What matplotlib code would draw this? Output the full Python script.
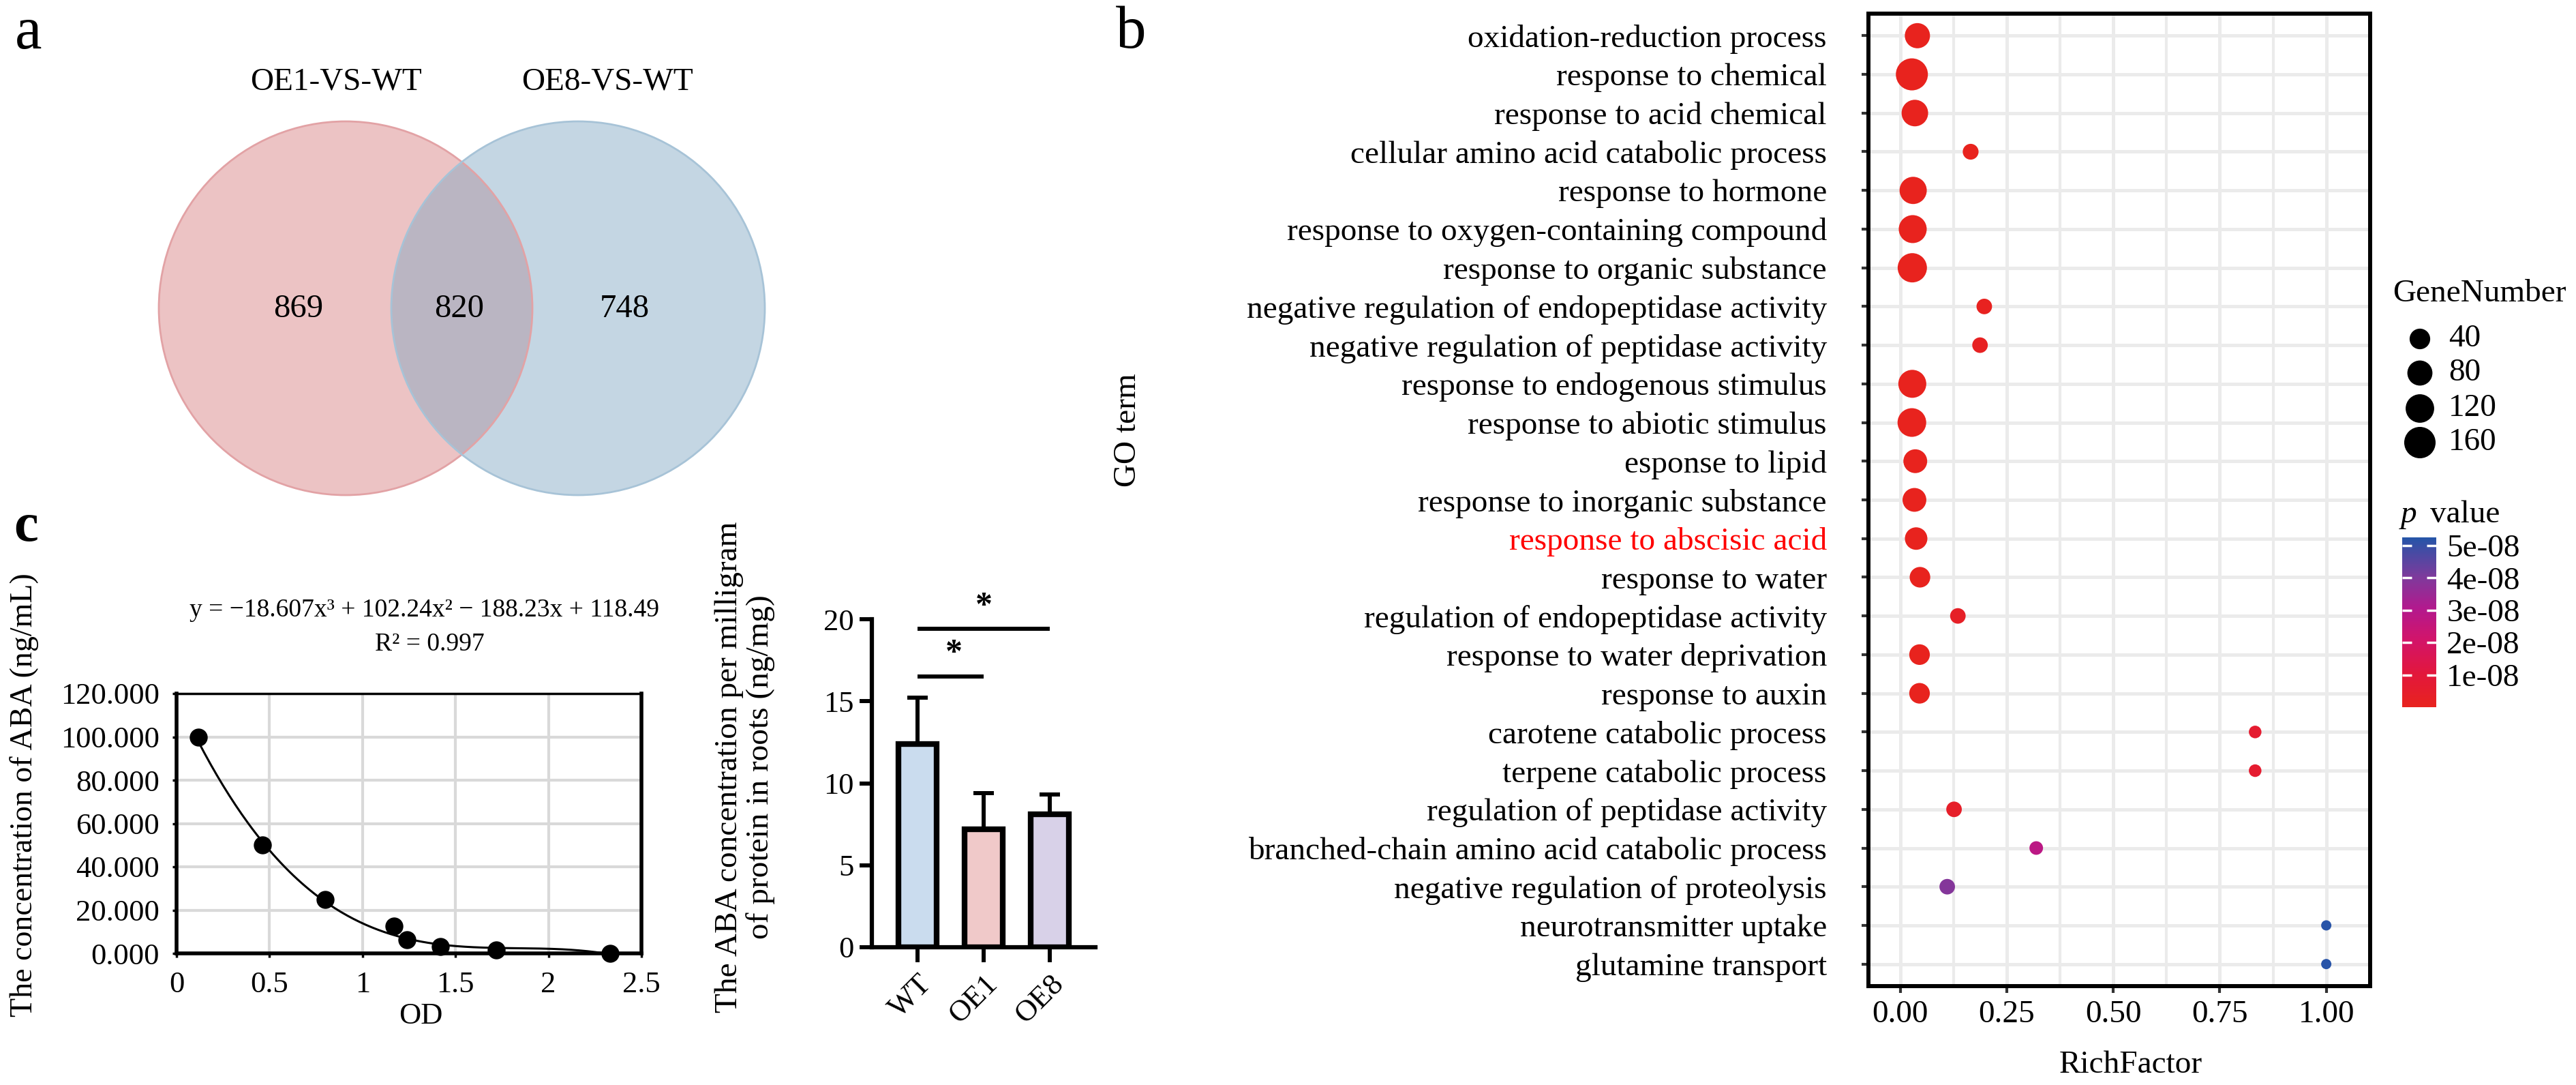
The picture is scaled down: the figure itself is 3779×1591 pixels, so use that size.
import numpy as np
import matplotlib.pyplot as plt
from matplotlib.patches import Circle
from matplotlib.colors import LinearSegmentedColormap, Normalize
from matplotlib.cm import ScalarMappable

plt.rcParams['font.family'] = ['Liberation Serif', 'DejaVu Serif']

W, H, DPI = 3780, 1591, 100
PT = 72 / DPI          # pixel -> point


def box(l, t, r, b):
    return [l / W, 1 - b / H, (r - l) / W, (b - t) / H]


# ── a: Venn ────────────────────────────────────────────────────
venn_sets = ["OE1-VS-WT", "OE8-VS-WT"]
venn_counts = [869, 820, 748]          # only OE1, both, only OE8

# ── b: GO enrichment ───────────────────────────────────────────
go_terms = [
    "oxidation-reduction process", "response to chemical", "response to acid chemical",
    "cellular amino acid catabolic process", "response to hormone",
    "response to oxygen-containing compound", "response to organic substance",
    "negative regulation of endopeptidase activity", "negative regulation of peptidase activity",
    "response to endogenous stimulus", "response to abiotic stimulus", "esponse to lipid",
    "response to inorganic substance", "response to abscisic acid", "response to water",
    "regulation of endopeptidase activity", "response to water deprivation", "response to auxin",
    "carotene catabolic process", "terpene catabolic process", "regulation of peptidase activity",
    "branched-chain amino acid catabolic process", "negative regulation of proteolysis",
    "neurotransmitter uptake", "glutamine transport",
]
rich_factor = [0.040, 0.027, 0.034, 0.165, 0.030, 0.029, 0.028, 0.197, 0.187, 0.028,
               0.027, 0.035, 0.033, 0.037, 0.046, 0.135, 0.045, 0.045, 0.833, 0.833,
               0.126, 0.319, 0.110, 1.000, 1.000]
gene_number = [81, 170, 96, 13, 104, 113, 130, 12, 12, 113,
               122, 67, 67, 55, 40, 12, 40, 40, 4, 4,
               12, 6, 12, 2, 2]
p_value = [1e-20, 1e-30, 1e-22, 2e-10, 1e-21, 1e-22, 1e-25, 1.0e-09, 1.5e-09, 1e-22,
           1e-25, 1e-18, 1e-17, 1e-16, 1e-14, 3.0e-09, 1e-13, 1e-13, 6.0e-09, 6.0e-09,
           4.0e-09, 2.8e-08, 3.9e-08, 5.2e-08, 5.2e-08]
size_breaks = [40, 80, 120, 160]
p_breaks = [1e-08, 2e-08, 3e-08, 4e-08, 5e-08]
highlight = "response to abscisic acid"

# ── c: ABA standard curve + bar chart ──────────────────────────
od = [0.117, 0.463, 0.80, 1.17, 1.24, 1.42, 1.72, 2.33]
aba_std = [100, 50, 25, 12.5, 6.25, 3.125, 1.5625, 0]
fit_coef = [-18.607, 102.24, -188.23, 118.49]
r_squared = 0.997

groups = ["WT", "OE1", "OE8"]
aba_mean = [12.4, 7.2, 8.1]
aba_sd = [2.8, 2.2, 1.2]
bar_colors = ["#CADCEE", "#F0C9C9", "#D8D1E8"]
sig_pairs = [(0, 1), (0, 2)]


def dot_px(n):
    n = np.asarray(n, dtype=float)
    return 15 + 32 * np.sqrt(np.clip((n - 2) / 168, 0, None))


fig = plt.figure(figsize=(W / DPI, H / DPI), dpi=DPI)

# overlay in pixel coordinates (venn, panel letters, free texts, legend)
ax0 = fig.add_axes([0, 0, 1, 1])
ax0.set_xlim(0, W)
ax0.set_ylim(H, 0)
ax0.axis("off")

for lab, x, y in [("a", 22, 71), ("b", 1637, 70)]:
    ax0.text(x, y, lab, fontsize=64, va="baseline", ha="left")
ax0.text(20, 793, "c", fontsize=58, fontweight="bold", va="baseline", ha="left")

# ── Venn ───────────────────────────────────────────────────────
ax0.add_patch(Circle((507, 452), 274, facecolor=(215/255, 122/255, 126/255), alpha=0.45, lw=0))
ax0.add_patch(Circle((848, 452), 274, facecolor=(126/255, 166/255, 193/255), alpha=0.45, lw=0))
ax0.add_patch(Circle((507, 452), 274, fill=False, edgecolor="#E2A2A5", lw=2))
ax0.add_patch(Circle((848, 452), 274, fill=False, edgecolor="#A7C3D7", lw=2))
ax0.text(493, 132, venn_sets[0], fontsize=34, ha="center", va="baseline")
ax0.text(891, 132, venn_sets[1], fontsize=34, ha="center", va="baseline")
for x, v in zip([438, 674, 916], venn_counts):
    ax0.text(x, 465, str(v), fontsize=35, ha="center", va="baseline")

# ── b: GO dot plot ─────────────────────────────────────────────
cmap = LinearSegmentedColormap.from_list("pv", [
    (0.0, "#E8231E"), (0.2, "#E2173D"), (0.4, "#D2146A"),
    (0.58, "#B3198D"), (0.77, "#7D3A9C"), (1.0, "#2555A8")])
norm = Normalize(vmin=0, vmax=5.25e-08)

axb = fig.add_axes(box(2741, 20, 3477, 1446))
yy = np.arange(len(go_terms))
axb.scatter(rich_factor, yy, s=(dot_px(gene_number) * PT) ** 2, c=p_value,
            cmap=cmap, norm=norm, linewidths=0, zorder=3)
axb.set_xlim(-0.075, 1.103)
axb.set_ylim(len(go_terms) - 1 + 0.57, -0.57)
axb.set_xticks([0, 0.25, 0.5, 0.75, 1.0])
axb.set_xticklabels(["0.00", "0.25", "0.50", "0.75", "1.00"])
axb.set_xticks([0.125, 0.375, 0.625, 0.875], minor=True)
axb.set_yticks(yy)
axb.set_yticklabels(go_terms)
axb.grid(which="major", color="#EBEBEB", lw=3.6)
axb.grid(which="minor", axis="x", color="#EBEBEB", lw=3.0)
axb.set_axisbelow(True)
axb.tick_params(which="minor", length=0)
axb.tick_params(axis="y", which="major", length=7, width=3, color="#333333",
                labelsize=34, pad=37)
axb.tick_params(axis="x", which="major", length=7, width=3, color="#333333",
                labelsize=34, pad=8)
for sp in axb.spines.values():
    sp.set_linewidth(4.3)
for t in axb.get_yticklabels():
    if t.get_text() == highlight:
        t.set_color("red")
ax0.text(1655, 631, "GO term", rotation=90, fontsize=34, ha="center", va="center")
ax0.text(3126, 1562, "RichFactor", fontsize=34, ha="center", va="center")

# size legend
ax0.text(3510, 431, "GeneNumber", fontsize=34, ha="left", va="center")
leg_y = [497, 547, 599, 649]
ax0.scatter([3550] * 4, leg_y, s=(dot_px(size_breaks) * PT) ** 2, color="black", linewidths=0)
for y, v in zip(leg_y, size_breaks):
    ax0.text(3592, y, str(v), fontsize=34, ha="left", va="center")

# colour legend
ax0.text(3522, 755, "p", fontsize=34, style="italic", ha="left", va="center")
ax0.text(3565, 755, "value", fontsize=34, ha="left", va="center")
cax = fig.add_axes(box(3524, 788, 3574, 1037))
cb = fig.colorbar(ScalarMappable(norm=norm, cmap=cmap), cax=cax)
cb.outline.set_visible(False)
cb.set_ticks(p_breaks)
cb.set_ticklabels([f"{p:.0e}" for p in p_breaks])
cax.tick_params(direction="in", color="white", labelcolor="black", length=10, width=2.5,
                left=True, right=True, labelsize=34, pad=11)

# ── c left: standard curve ─────────────────────────────────────
axc = fig.add_axes(box(259, 1017, 941, 1398))
xs = np.linspace(od[0], od[-1], 200)
axc.plot(xs, np.polyval(fit_coef, xs), color="black", lw=2.2, zorder=3)
axc.plot(od, aba_std, "o", color="black", ms=18, clip_on=False, zorder=4)
axc.set_xlim(0, 2.5)
axc.set_ylim(0, 120)
axc.set_xticks([0, 0.5, 1, 1.5, 2, 2.5])
axc.set_xticklabels(["0", "0.5", "1", "1.5", "2", "2.5"])
axc.set_yticks(np.arange(0, 121, 20))
axc.set_yticklabels([f"{v:.3f}" for v in np.arange(0, 121, 20)])
axc.grid(color="#D9D9D9", lw=3)
axc.set_axisbelow(True)
for name, sp in axc.spines.items():
    sp.set_linewidth(2.5 if name == "top" else 4)
axc.tick_params(axis="y", length=4, width=2.5, labelsize=32, pad=14)
axc.tick_params(axis="x", length=4, width=2.5, labelsize=32, pad=15)
a3, a2, a1, a0 = fit_coef
eq = f"y = \u2212{abs(a3):.3f}x\u00b3 + {a2:.2f}x\u00b2 \u2212 {abs(a1):.2f}x + {a0:.2f}"
ax0.text(623, 904, eq, fontsize=27, ha="center", va="baseline")
ax0.text(630, 954, f"R\u00b2 = {r_squared:.3f}", fontsize=27, ha="center", va="baseline")
ax0.text(36, 1166, "The concentration of ABA (ng/mL)", rotation=90, fontsize=33,
         ha="center", va="center")
ax0.text(617, 1490, "OD", fontsize=32, ha="center", va="center")

# ── c right: bar chart ─────────────────────────────────────────
axr = fig.add_axes(box(1279, 908, 1607, 1389))
xb = np.arange(len(groups))
axr.bar(xb, aba_mean, width=0.58, color=bar_colors, edgecolor="black", linewidth=6, zorder=2)
axr.errorbar(xb, aba_mean, yerr=[np.zeros(len(groups)), aba_sd], fmt="none", ecolor="black",
             elinewidth=4.3, capsize=11, capthick=4.3, zorder=3)
axr.set_xlim(-0.69, 2.69)
axr.set_ylim(0, 20)
axr.set_yticks([0, 5, 10, 15, 20])
axr.set_xticks(xb)
axr.set_xticklabels(groups, rotation=45, ha="right", rotation_mode="anchor")
for name in ["top", "right"]:
    axr.spines[name].set_visible(False)
for name in ["left", "bottom"]:
    axr.spines[name].set_linewidth(4.5)
axr.tick_params(axis="y", length=13, width=4.3, labelsize=32, pad=6)
axr.tick_params(axis="x", length=16, width=4.3, labelsize=32, pad=8)
for (i, j), ly, sx, sy in zip(sig_pairs, [16.5, 19.4], [0.55, 1.0], [17.9, 20.75]):
    axr.plot([i, j], [ly, ly], color="black", lw=4.3, clip_on=False, solid_capstyle="butt")
    axr.text(sx, sy, "*", fontsize=36, fontweight="bold", ha="center", va="center")
ax0.text(1093, 1125, "The ABA concentration per milligram\nof protein in roots (ng/mg)",
         rotation=90, fontsize=34, ha="center", va="center", multialignment="center",
         linespacing=1.1)

fig.savefig("out.png", dpi=DPI)
